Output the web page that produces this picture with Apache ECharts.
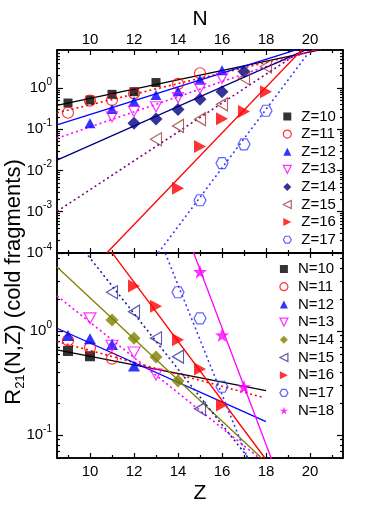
<!DOCTYPE html>
<html><head><meta charset="utf-8">
<script src="https://cdn.jsdelivr.net/npm/echarts@6/dist/echarts.min.js"></script>
<style>html,body{margin:0;padding:0;background:#fff}#c{width:382px;height:509px}</style>
</head><body><div id="c"></div>
<script>
// ===== DATA =====
// Top panel: R21 vs N, one set per Z
const nZ10 = [9, 10, 11, 12, 13];            const rZ10 = [0.43, 0.51, 0.70, 0.81, 1.35];
const nZ11 = [9, 10, 11, 12, 14, 15];        const rZ11 = [0.25, 0.49, 0.51, 0.74, 1.25, 2.27];
const nZ12 = [10, 11, 12, 13, 14, 15, 16];   const rZ12 = [0.14, 0.31, 0.47, 0.67, 0.83, 1.58, 2.7];
const nZ13 = [11, 12, 13, 14, 15, 16];       const rZ13 = [0.20, 0.27, 0.35, 0.58, 0.97, 1.72];
const nZ14 = [12, 13, 14, 15, 16, 17];       const rZ14 = [0.139, 0.177, 0.30, 0.53, 0.81, 2.5];
const nZ15 = [13, 14, 15, 16, 17, 18];       const rZ15 = [0.057, 0.12, 0.175, 0.40, 1.72, 3.3];
const nZ16 = [14, 15, 16, 17, 18];           const rZ16 = [0.0037, 0.038, 0.18, 0.27, 0.81];
const nZ17 = [15, 16, 17, 18];               const rZ17 = [0.0019, 0.015, 0.043, 0.28];
// Top panel fit lines: [N, R] end points
const fitZ10 = [[8.5, 0.38], [21.5, 11]];
const fitZ11 = [[8.5, 0.25], [21.5, 11.7]];
const fitZ12 = [[8.5, 0.127], [21.5, 19]];
const fitZ13 = [[8.5, 0.060], [21.5, 14.5]];
const fitZ14 = [[8.5, 0.0178], [21.5, 21]];
const fitZ15 = [[8.5, 0.00102], [21.5, 36]];
const fitZ16 = [[10.76, 0.0001], [21.5, 91]];
const fitZ17 = [[13.1, 0.0001], [21.5, 92]];

// Bottom panel: R21 vs Z, one set per N
const zN10 = [9, 10];                   const rN10 = [0.64, 0.57];
const zN11 = [9, 10, 11];               const rN11 = [0.81, 0.69, 0.54];
const zN12 = [9, 10, 11, 12];           const rN12 = [0.90, 0.84, 0.74, 0.46];
const zN13 = [10, 11, 12, 13];          const rN13 = [1.32, 0.72, 0.62, 0.38];
const zN14 = [11, 12, 13, 14];          const rN14 = [1.27, 0.85, 0.56, 0.33];
const zN15 = [11, 12, 13, 14, 15];      const rN15 = [2.35, 1.53, 0.85, 0.565, 0.178];
const zN16 = [12, 13, 14, 15, 16];      const rN16 = [2.7, 1.72, 0.82, 0.43, 0.194];
const zN17 = [14, 15, 16];              const rN17 = [2.35, 1.32, 0.29];
const zN18 = [15, 16, 17];              const rN18 = [3.7, 0.91, 0.29];
// Bottom panel fit lines: [Z, R] end points
const fitN10 = [[8.5, 0.656], [18, 0.267]];
const fitN11 = [[8.5, 0.79], [17.9, 0.228]];
const fitN12 = [[8.5, 1.06], [18, 0.134]];
const fitN13 = [[8.5, 2.17], [17.7, 0.06]];
const fitN14 = [[8.5, 4.1], [17.8, 0.06]];
const fitN15 = [[8.5, 12.6], [17.2, 0.06]];
const fitN16 = [[8.5, 29], [17.95, 0.06]];
const fitN17 = [[13.0, 9.3], [17.2, 0.057]];
const fitN18 = [[14.5, 7.4], [18.3, 0.055]];

// Tick labels
const nTickLabels = [10, 12, 14, 16, 18, 20];
const zTickLabels = [10, 12, 14, 16, 18, 20];
const topExpLabels = [-4, -3, -2, -1, 0];
const botExpLabels = [-1, 0];

// ===== LAYOUT / STYLE =====
const FONT = 'Liberation Sans, Arial, Helvetica, sans-serif';
const X_MIN = 8.5, X_MAX = 21.5;
const TOP_Y = [1e-4, 8.3], BOT_Y = [0.06, 5.6];
const HEX = 'path://M-10,0 L-5,-8.66 L5,-8.66 L10,0 L5,8.66 L-5,8.66 Z';
const STAR = 'path://M0,-10 L2.35,-3.24 L9.51,-3.09 L3.8,1.24 L5.88,8.09 L0,4 L-5.88,8.09 L-3.8,1.24 L-9.51,-3.09 L-2.35,-3.24 Z';
const TRI_DOWN = 'path://M-10,-10 L10,-10 L0,10 Z';
const TRI_LEFT = 'path://M10,-10 L10,10 L-10,0 Z';
const TRI_RIGHT = 'path://M-10,-10 L-10,10 L10,0 Z';

const topGroups = [
  {name:'Z=10', x:nZ10, y:rZ10, fit:fitZ10, sym:'rect', size:9, open:false, color:'#000000', line:'#000000', dash:false},
  {name:'Z=11', x:nZ11, y:rZ11, fit:fitZ11, sym:'circle', size:11, open:true, color:'#ff0000', line:'#ff0000', dash:true},
  {name:'Z=12', x:nZ12, y:rZ12, fit:fitZ12, sym:'triangle', size:[11,10], open:false, color:'#0000ff', line:'#0000ff', dash:false},
  {name:'Z=13', x:nZ13, y:rZ13, fit:fitZ13, sym:TRI_DOWN, size:[11,10], open:true, color:'#ff00ff', line:'#ff00ff', dash:true},
  {name:'Z=14', x:nZ14, y:rZ14, fit:fitZ14, sym:'diamond', size:13, open:false, color:'#000080', line:'#000080', dash:false},
  {name:'Z=15', x:nZ15, y:rZ15, fit:fitZ15, sym:TRI_LEFT, size:[11,13], open:true, color:'#a03c3c', line:'#800080', dash:true},
  {name:'Z=16', x:nZ16, y:rZ16, fit:fitZ16, sym:TRI_RIGHT, size:[12,13], open:false, color:'#ff0000', line:'#ff0000', dash:false},
  {name:'Z=17', x:nZ17, y:rZ17, fit:fitZ17, sym:HEX, size:[12,11], open:true, color:'#3a3aff', line:'#3a3aff', dash:true}
];
const botGroups = [
  {name:'N=10', x:zN10, y:rN10, fit:fitN10, sym:'rect', size:10, open:false, color:'#000000', line:'#000000', dash:false},
  {name:'N=11', x:zN11, y:rN11, fit:fitN11, sym:'circle', size:11, open:true, color:'#ff0000', line:'#ff0000', dash:true},
  {name:'N=12', x:zN12, y:rN12, fit:fitN12, sym:'triangle', size:[12,11], open:false, color:'#0000ff', line:'#0000ff', dash:false},
  {name:'N=13', x:zN13, y:rN13, fit:fitN13, sym:TRI_DOWN, size:[12,11], open:true, color:'#ff00ff', line:'#ff00ff', dash:true},
  {name:'N=14', x:zN14, y:rN14, fit:fitN14, sym:'diamond', size:13, open:false, color:'#808000', line:'#808000', dash:false},
  {name:'N=15', x:zN15, y:rN15, fit:fitN15, sym:TRI_LEFT, size:[11,13], open:true, color:'#30309a', line:'#1e1ea0', dash:true},
  {name:'N=16', x:zN16, y:rN16, fit:fitN16, sym:TRI_RIGHT, size:[12,13], open:false, color:'#ff0000', line:'#ff0000', dash:false},
  {name:'N=17', x:zN17, y:rN17, fit:fitN17, sym:HEX, size:[12,11], open:true, color:'#3a3aff', line:'#3a3aff', dash:true},
  {name:'N=18', x:zN18, y:rN18, fit:fitN18, sym:STAR, size:14, open:false, color:'#ff00ff', line:'#ff00ff', dash:false}
];

function itemStyleOf(g) {
  return g.open ? {color:'rgba(255,255,255,0)', borderColor:g.color, borderWidth:1.2}
                : {color:g.color, borderWidth:0};
}
function buildSeries(groups, xi, yi) {
  const out = [];
  groups.forEach(g => {
    out.push({
      type:'line', name:g.name + ' fit', xAxisIndex:xi, yAxisIndex:yi,
      data:g.fit, showSymbol:false, symbol:'none', clip:true, silent:true, z:2,
      lineStyle:{color:g.line, width:g.dash ? 1.6 : 1.3, type:g.dash ? [2, 3] : 'solid'}
    });
    out.push({
      type:'scatter', name:g.name, xAxisIndex:xi, yAxisIndex:yi,
      data:g.x.map((v, i) => [v, g.y[i]]), symbol:g.sym, symbolSize:g.size,
      silent:true, z:5, itemStyle:itemStyleOf(g)
    });
  });
  return out;
}
function legendData(groups) {
  return groups.map(g => ({name:g.name, icon:g.sym, itemStyle:itemStyleOf(g)}));
}

function range(a, b) { const r = []; for (let i = a; i <= b; i++) r.push(i); return r; }
const xMajor = range(9, 21).filter(v => v % 2 === 0);
const xMinor = range(9, 21).filter(v => v % 2 === 1);
function logMinor(lo, hi) {
  const out = [];
  for (let e = Math.floor(Math.log10(lo)) - 1; e <= Math.ceil(Math.log10(hi)); e++) {
    for (let k = 2; k <= 9; k++) {
      const v = Math.log10(k) + e;
      if (v >= Math.log10(lo) - 1e-9 && v <= Math.log10(hi) + 1e-9) out.push(v);
    }
  }
  return out;
}

const axLine = {show:true, onZero:false, lineStyle:{color:'#000', width:1.5}};
function xAx(grid, pos, ticks, len, labels, name, nameGap, margin) {
  return {
    type:'value', gridIndex:grid, position:pos, min:X_MIN, max:X_MAX,
    axisLine:axLine, splitLine:{show:false},
    axisTick:{show:true, inside:true, length:len, customValues:ticks, lineStyle:{color:'#000', width:1.2}},
    axisLabel: labels ? {show:true, customValues:labels, color:'#000', fontSize:15, fontFamily:FONT, margin:margin}
                      : {show:false},
    name:name || '', nameLocation:'middle', nameGap:nameGap || 0, nameMoveOverlap:false,
    nameTextStyle:{color:'#000', fontSize:21, fontFamily:FONT}
  };
}
function yAxVal(grid, pos, yr, ticks, len, labels) {
  return {
    type:'value', gridIndex:grid, position:pos, min:Math.log10(yr[0]), max:Math.log10(yr[1]),
    axisLine:axLine, splitLine:{show:false},
    axisTick:{show:true, inside:true, length:len, customValues:ticks, lineStyle:{color:'#000', width:1.2}},
    axisLabel: labels ? {
      show:true, customValues:labels, margin:5, fontFamily:FONT, color:'#000',
      formatter: v => '{b|10}{s|' + v + '}',
      rich:{b:{fontSize:15, lineHeight:22, fontFamily:FONT, color:'#000'},
            s:{fontSize:10, lineHeight:10, verticalAlign:'top', fontFamily:FONT, color:'#000'}}
    } : {show:false}
  };
}

const topMinor = logMinor(TOP_Y[0], TOP_Y[1]);
const botMinor = logMinor(BOT_Y[0], BOT_Y[1]);

const option = {
  animation:false,
  backgroundColor:'#fff',
  grid:[
    {left:57, top:50, width:286, height:203, outerBoundsMode:'none', containLabel:false},
    {left:57, top:253, width:286, height:205, outerBoundsMode:'none', containLabel:false}
  ],
  xAxis:[
    xAx(0, 'top', xMajor, 5, nTickLabels, 'N', 20, 3),
    xAx(0, 'top', xMinor, 3, null),
    xAx(0, 'bottom', xMajor, 5, null),
    xAx(0, 'bottom', xMinor, 3, null),
    xAx(1, 'bottom', xMajor, 5, zTickLabels, 'Z', 25, 6),
    xAx(1, 'bottom', xMinor, 3, null),
    xAx(1, 'top', xMajor, 5, null),
    xAx(1, 'top', xMinor, 3, null)
  ],
  yAxis:[
    {type:'log', logBase:10, gridIndex:0, min:TOP_Y[0], max:TOP_Y[1], show:false},
    yAxVal(0, 'left', TOP_Y, topExpLabels, 6, topExpLabels),
    yAxVal(0, 'left', TOP_Y, topMinor, 3, null),
    yAxVal(0, 'right', TOP_Y, topExpLabels, 6, null),
    yAxVal(0, 'right', TOP_Y, topMinor, 3, null),
    {type:'log', logBase:10, gridIndex:1, min:BOT_Y[0], max:BOT_Y[1], show:false},
    yAxVal(1, 'left', BOT_Y, botExpLabels, 6, botExpLabels),
    yAxVal(1, 'left', BOT_Y, botMinor, 3, null),
    yAxVal(1, 'right', BOT_Y, botExpLabels, 6, null),
    yAxVal(1, 'right', BOT_Y, botMinor, 3, null)
  ],
  legend:[
    {data:legendData(topGroups), orient:'vertical', left:277.7, top:104, itemWidth:8, itemHeight:8,
     itemGap:2.6, selectedMode:false,
     textStyle:{color:'#000', fontSize:15, lineHeight:15, fontFamily:FONT, padding:[0, 0, 0, 5]}},
    {data:legendData(botGroups), orient:'vertical', left:274.3, top:256.5, itemWidth:8, itemHeight:8,
     itemGap:2.7, selectedMode:false,
     textStyle:{color:'#000', fontSize:15, lineHeight:15, fontFamily:FONT, padding:[0, 0, 0, 5]}}
  ],
  graphic:[{
    type:'text', x:14, y:282, rotation:Math.PI / 2,
    style:{
      text:'{a|R}{s|21}{a|(N,Z) (cold fragments)}',
      textAlign:'center', textVerticalAlign:'middle',
      rich:{a:{fontSize:22, lineHeight:26, fontFamily:FONT, fill:'#000'},
            s:{fontSize:13, lineHeight:12, verticalAlign:'bottom', fontFamily:FONT, fill:'#000'}}
    }
  }],
  series:[].concat(buildSeries(topGroups, 0, 0), buildSeries(botGroups, 4, 5))
};

const chart = echarts.init(document.getElementById('c'));
chart.setOption(option);
</script>
</body></html>
